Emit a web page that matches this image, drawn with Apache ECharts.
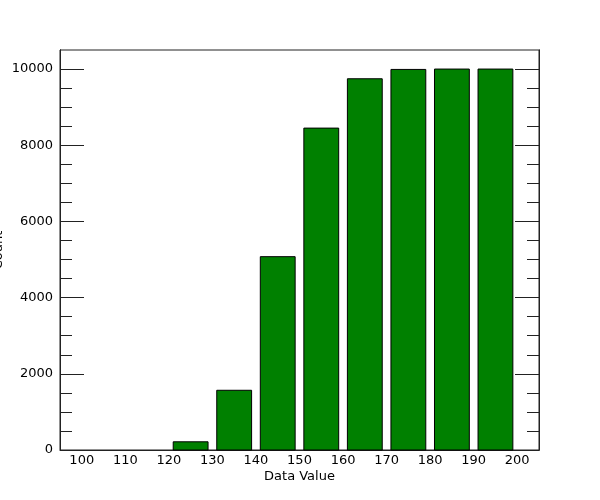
<!DOCTYPE html>
<html>
<head>
<meta charset="utf-8">
<script src="https://cdn.jsdelivr.net/npm/echarts@6/dist/echarts.min.js"></script>
<style>html,body{margin:0;padding:0;background:#fff}#c{width:600px;height:500px}</style>
</head>
<body>
<div id="c"></div>
<script>
var binStarts = [100, 110, 120, 130, 140, 150, 160, 170, 180, 190];
var binWidth = 10;
var counts = [0, 0, 215, 1568, 5075, 8450, 9745, 9990, 10000, 10000];
var xTickLabels = [100, 110, 120, 130, 140, 150, 160, 170, 180, 190, 200];
var yMajorTicks = [0, 2000, 4000, 6000, 8000, 10000];
var yMinorTicks = [500, 1000, 1500, 2500, 3000, 3500, 4500, 5000, 5500, 6500, 7000, 7500, 8500, 9000, 9500];

var FONT = 'DejaVu Sans';
var LINE = '#222';
var chart = echarts.init(document.getElementById('c'), null, {renderer: 'canvas'});

var data = binStarts.map(function (s, i) { return [s, s + binWidth, counts[i]]; });
function plain(v) { return String(v); }

function yAxisDef(pos, isMajor, withLabel) {
  return {
    type: 'value', position: pos, min: 0, max: 10500,
    axisLine: {show: true, onZero: false, lineStyle: {color: LINE, width: 1}},
    axisTick: {show: true, inside: true, length: isMajor ? 24 : 12,
      customValues: isMajor ? yMajorTicks : yMinorTicks,
      lineStyle: {color: LINE, width: 1}},
    axisLabel: withLabel ? {show: true, customValues: yMajorTicks, margin: 7, formatter: plain,
      color: '#000', fontSize: 13, fontFamily: FONT} : {show: false},
    splitLine: {show: false},
    name: withLabel ? 'Count' : '',
    nameLocation: 'middle', nameGap: 55, nameMoveOverlap: false,
    nameTextStyle: {color: '#000', fontSize: 13, fontFamily: FONT}
  };
}

chart.setOption({
  animation: false,
  grid: {left: 60, right: 61, top: 50, bottom: 50, containLabel: false, outerBoundsMode: 'none',
    show: true, borderColor: LINE, borderWidth: 1, backgroundColor: 'transparent'},
  xAxis: {
    type: 'value', min: 95, max: 205,
    axisLine: {show: true, onZero: false, lineStyle: {color: LINE, width: 1}},
    axisTick: {show: false},
    axisLabel: {show: true, customValues: xTickLabels, margin: 4, formatter: plain, color: '#000', fontSize: 13, fontFamily: FONT},
    splitLine: {show: false},
    name: 'Data Value', nameLocation: 'middle', nameGap: 20, nameMoveOverlap: false,
    nameTextStyle: {color: '#000', fontSize: 13, fontFamily: FONT}
  },
  yAxis: [
    yAxisDef('left', true, true),
    yAxisDef('left', false, false),
    yAxisDef('right', true, false),
    yAxisDef('right', false, false)
  ],
  series: [{
    type: 'custom',
    xAxisIndex: 0, yAxisIndex: 0,
    data: data,
    renderItem: function (params, api) {
      var s = api.value(0), e = api.value(1), v = api.value(2);
      var c = (s + e) / 2, hw = (e - s) * 0.4;
      var p0 = api.coord([c - hw, v]);
      var p1 = api.coord([c + hw, 0]);
      if (v <= 0) return null;
      return {
        type: 'rect',
        shape: {x: p0[0], y: p0[1], width: p1[0] - p0[0], height: p1[1] - p0[1]},
        style: {fill: '#008000', stroke: '#000', lineWidth: 1}
      };
    },
    encode: {x: [0, 1], y: 2}
  }]
});
</script>
</body>
</html>
